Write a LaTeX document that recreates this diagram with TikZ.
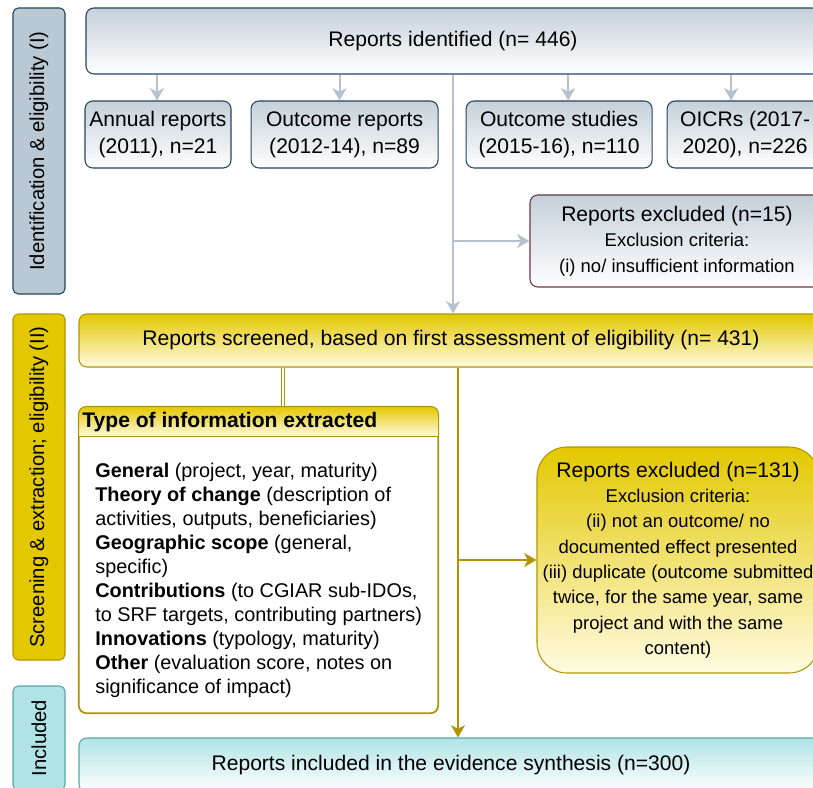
\documentclass[tikz,border=0pt]{standalone}
\usepackage{fontspec}
\setmainfont{Liberation Sans}
\usetikzlibrary{arrows.meta,positioning}
\definecolor{idBlue}{HTML}{BAC8D3}
\definecolor{idLine}{HTML}{23445D}
\definecolor{idArrow}{HTML}{B3C2CE}
\definecolor{screenGold}{HTML}{E3C800}
\definecolor{screenLine}{HTML}{B09500}
\definecolor{screenPale}{HTML}{FFFBE2}
\definecolor{inclTeal}{HTML}{B0E3E6}
\definecolor{inclLine}{HTML}{0E8088}
\definecolor{exclRed}{HTML}{6E3346}

\begin{document}
\begin{tikzpicture}[every node/.style={align=center, inner sep=0pt},
    phase/.style={draw, line width=0.6pt, rounded corners=3pt, rotate=90, minimum height=1.04cm, font=\fontsize{11.5}{13}\selectfont},
    idcard/.style={draw=idLine, line width=0.6pt, rounded corners=4.5pt, top color=idBlue!85!white, bottom color=white, font=\fontsize{12}{15.2}\selectfont},
    goldcard/.style={draw=screenLine, line width=0.6pt, rounded corners=4.5pt, top color=screenGold, bottom color=screenPale, font=\fontsize{12}{14.8}\selectfont},
    criteria/.style={font=\fontsize{10.5}{14.4}\selectfont},
    graylink/.style={idArrow, line width=1.1pt, -{Stealth[length=7pt, width=8pt, inset=2pt]}},
    goldlink/.style={screenLine, line width=1.1pt, -{Stealth[length=7pt, width=8pt, inset=2pt]}}]
    \useasboundingbox (0,0) rectangle (16.26,-15.74);
    \clip (0,0) rectangle (16.26,-15.74);

    \node[phase, fill=idBlue, draw=idLine, minimum width=5.72cm] (phaseI) at (0.78,-3.02) {Identification \& eligibility (I)};
    \node[phase, fill=screenGold, draw=screenLine, minimum width=6.92cm] (phaseII) at (0.78,-9.74) {Screening \& extraction; eligibility (II)};
    \node[phase, fill=inclTeal, draw=inclLine!70, minimum width=2.08cm] (phaseIII) at (0.78,-14.76) {Included};

    \node[idcard, minimum width=14.68cm, minimum height=1.32cm] (ident) at (9.06,-0.82) {Reports identified (n= 446)};
    \node[idcard, minimum width=2.92cm, minimum height=1.34cm] (annual) at (3.16,-2.69) {Annual reports\\(2011), n=21};
    \node[idcard, minimum width=3.74cm, minimum height=1.34cm, right=0.38cm of annual] (outrep) {Outcome reports\\(2012-14), n=89};
    \node[idcard, minimum width=3.72cm, minimum height=1.34cm, right=0.54cm of outrep] (outstud) {Outcome studies\\(2015-16), n=110};
    \node[idcard, minimum width=3.12cm, minimum height=1.34cm, right=0.28cm of outstud] (oicr) {OICRs (2017-\\2020), n=226};
    \node[idcard, draw=exclRed, criteria, minimum width=5.88cm, minimum height=1.84cm] (exclI) at (13.54,-4.82) {{\fontsize{12}{14}\selectfont Reports excluded (n=15)}\\Exclusion criteria:\\(i) no/ insufficient information};

    \coordinate (annualtip) at ([xshift=-0.02cm]annual.north);
    \coordinate (outreptip) at ([xshift=-0.1cm]outrep.north);
    \coordinate (outstudtip) at ([xshift=0.18cm]outstud.north);
    \coordinate (oicrtip) at ([xshift=-0.28cm]oicr.north);
    \draw[graylink] (annualtip |- ident.south) -- (annualtip);
    \draw[graylink] (outreptip |- ident.south) -- (outreptip);
    \draw[graylink] (outstudtip |- ident.south) -- (outstudtip);
    \draw[graylink] (oicrtip |- ident.south) -- (oicrtip);

    \node[goldcard, minimum width=14.88cm, minimum height=1.06cm] (screened) at (9.02,-6.81) {Reports screened, based on first assessment of eligibility (n= 431)};
    \draw[graylink] (ident.south) -- (ident.south |- screened.north);
    \draw[graylink] (ident.south |- exclI.west) -- (exclI.west);

    \node[draw=screenLine, fill=white, line width=0.6pt, rounded corners=4.5pt, minimum width=7.18cm, minimum height=6.12cm] (info) at (5.17,-11.2) {};
    \begin{scope}
      \clip[rounded corners=4.5pt] (info.south west) rectangle (info.north east);
      \fill[top color=screenGold, bottom color=screenPale] (info.north west) rectangle ([yshift=-0.6cm]info.north east);
    \end{scope}
    \draw[screenLine, line width=0.6pt] ([yshift=-0.6cm]info.north west) -- ([yshift=-0.6cm]info.north east);
    \draw[screenLine, line width=0.6pt, rounded corners=4.5pt] (info.south west) rectangle (info.north east);
    \node[anchor=west, font=\bfseries\fontsize{12}{14}\selectfont] (infohead) at (1.64,-8.44) {Type of information extracted};
    \node[anchor=west, align=left, font=\fontsize{11.3}{13.66}\selectfont] (infobody) at (1.9,-11.6) {\textbf{General} (project, year, maturity)\\
      \textbf{Theory of change} (description of\\
      activities, outputs, beneficiaries)\\
      \textbf{Geographic scope} (general,\\
      specific)\\
      \textbf{Contributions} (to CGIAR sub-IDOs,\\
      to SRF targets, contributing partners)\\
      \textbf{Innovations} (typology, maturity)\\
      \textbf{Other} (evaluation score, notes on\\
      significance of impact)};

    \node[goldcard, criteria, rounded corners=0.6cm, minimum width=5.64cm, minimum height=4.52cm] (exclII) at (13.56,-11.2) {{\fontsize{12}{14}\selectfont Reports excluded (n=131)}\\Exclusion criteria:\\(ii) not an outcome/ no\\documented effect presented\\(iii) duplicate (outcome submitted\\twice, for the same year, same\\project and with the same\\content)};
    \node[draw=inclLine!70, line width=0.6pt, rounded corners=4.5pt, top color=inclTeal, bottom color=white, minimum width=14.88cm, minimum height=1.08cm, font=\fontsize{12}{14.8}\selectfont] (incl) at (9.02,-15.3) {Reports included in the evidence synthesis (n=300)};

    \coordinate (infolink) at ([xshift=0.49cm]info.north);
    \draw[screenLine, line width=0.6pt, double=white, double distance=1.6pt] (infolink |- screened.south) -- (infolink);
    \coordinate (spine) at ([xshift=0.14cm]screened.south);
    \draw[goldlink] (spine) -- (spine |- incl.north);
    \draw[goldlink] (spine |- exclII.west) -- (exclII.west);
  \end{tikzpicture}
\end{document}
